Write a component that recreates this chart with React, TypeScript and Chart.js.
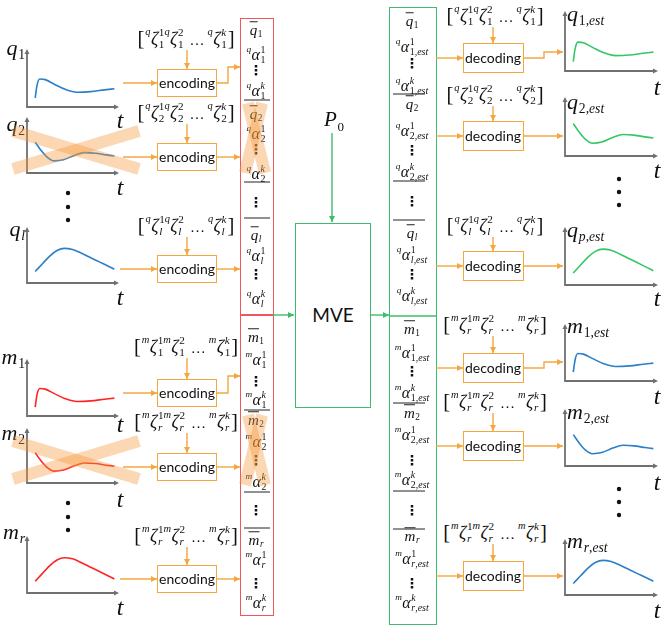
import React, { useEffect, useRef } from 'react';
import { Chart, registerables } from 'chart.js';

Chart.register(...registerables);

// curve shapes, x and y as a fraction of each axis box
const riseX = [0.09, 0.11, 0.14, 0.2, 0.3, 0.42, 0.55, 0.7, 0.85, 0.96];
const riseY = [0.16, 0.38, 0.49, 0.48, 0.4, 0.31, 0.26, 0.27, 0.3, 0.32];
const dipX = [0.09, 0.15, 0.22, 0.3, 0.4, 0.52, 0.63, 0.75, 0.87, 0.96];
const dipY = [0.56, 0.42, 0.29, 0.22, 0.24, 0.32, 0.37, 0.36, 0.33, 0.31];
const humpX = [0.09, 0.17, 0.25, 0.33, 0.41, 0.5, 0.6, 0.7, 0.8, 0.9, 0.96];
const humpY = [0.21, 0.35, 0.49, 0.59, 0.63, 0.61, 0.54, 0.46, 0.38, 0.3, 0.25];

// names shown in the figure
const inVars = [['q', '1'], ['q', '2'], ['q', 'l'], ['m', '1'], ['m', '2'], ['m', 'r']];
const outVars = [['q', '1,est'], ['q', '2,est'], ['q', 'p,est'], ['m', '1,est'], ['m', '2,est'], ['m', 'r,est']];
const rowShape = ['rise', 'dip', 'hump', 'rise', 'dip', 'hump'];
const encZetaIdx = ['1', '2', 'l', '1', 'r', 'r'];
const decZetaIdx = ['1', '2', 'l', 'r', 'r', 'r'];
const blockIdx = { q: ['1', '2', 'l'], m: ['1', '2', 'r'] };

const shapes: Record<string, number[][]> = { rise: [riseX, riseY], dip: [dipX, dipY], hump: [humpX, humpY] };

// layout (page pixels)
const inTop = [50, 118, 228, 360, 429, 537];
const inBottom = [107, 173, 283, 416, 483, 593];
const inLabelY = [48, 124, 229, 357, 433, 532];
const inTY = [120, 187, 297, 424, 499, 607];
const outTop = [12, 98, 228, 325, 410, 540];
const outBottom = [71, 156, 285, 381, 466, 595];
const outLabelY = [14, 102, 230, 326, 412, 541];
const outTY = [87, 170, 298, 396, 482, 610];
const encY = [83, 157, 269, 393, 467, 579];
const encZetaY = [39, 113, 226, 347, 422, 536];
const decY = [58, 136, 266, 368, 446, 576];
const decZetaY = [16, 95, 226, 325, 402, 533];
const redRows = [[30, 52, 70, 88], [114, 131, 149, 171], [235, 253, 274, 296], [337, 357, 381, 397], [420, 439, 460, 479], [540, 557, 583, 600]];
const greenRows = [[21, 44, 63, 83], [104, 128, 150, 169], [233, 252, 274, 293], [329, 350, 371, 390], [413, 432, 460, 477], [536, 556, 583, 600]];
const redGapDots = [202, 510];
const greenGapDots = [201, 510];
const redSeps = [100, 182, 218, 410, 492, 528];
const greenSeps = [94, 181, 220, 403, 491, 529];
const leftDots = [193, 207, 220, 503, 517, 530];
const rightDots = [179, 192, 205, 489, 502, 515];

const ORANGE = '#f4a640';
const RED_BOX = '#f0555a';
const GREEN_BOX = '#3dbd6c';
const AXIS = '#707070';
const BLUE = '#2a7fc9';
const RED = '#ff2424';
const GREEN = '#34c766';
const MATH = '"Liberation Serif", "DejaVu Serif", serif';
const SANS = 'Lato, "Open Sans", sans-serif';
const PAD = 6;

const axisArrows = {
  id: 'axisArrows',
  beforeDatasetsDraw(chart: any) {
    const { ctx, chartArea } = chart;
    const { left, top, right, bottom } = chartArea;
    ctx.save();
    ctx.strokeStyle = AXIS;
    ctx.fillStyle = AXIS;
    ctx.lineWidth = 1.8;
    ctx.beginPath();
    ctx.moveTo(left, top + 3);
    ctx.lineTo(left, bottom);
    ctx.lineTo(right - 3, bottom);
    ctx.stroke();
    ctx.beginPath();
    ctx.moveTo(left, top - 1);
    ctx.lineTo(left - 2.5, top + 4);
    ctx.lineTo(left + 2.5, top + 4);
    ctx.closePath();
    ctx.fill();
    ctx.beginPath();
    ctx.moveTo(right + 1, bottom);
    ctx.lineTo(right - 4, bottom - 2.5);
    ctx.lineTo(right - 4, bottom + 2.5);
    ctx.closePath();
    ctx.fill();
    ctx.restore();
  },
};

function MiniPlot({ left, top, width, height, shape, color }: any) {
  const ref = useRef<HTMLCanvasElement | null>(null);
  useEffect(() => {
    if (!ref.current) return;
    const [xs, ys] = shapes[shape];
    const chart = new Chart(ref.current, {
      type: 'line',
      data: {
        datasets: [
          {
            data: xs.map((x, i) => ({ x, y: ys[i] })),
            borderColor: color,
            borderWidth: 1.6,
            pointRadius: 0,
            tension: 0.4,
            cubicInterpolationMode: 'monotone',
            fill: false,
          },
        ],
      },
      options: {
        animation: false,
        responsive: false,
        events: [],
        layout: { padding: PAD },
        scales: {
          x: { type: 'linear', min: 0, max: 1, display: false },
          y: { min: 0, max: 1, display: false },
        },
        plugins: { legend: { display: false }, tooltip: { enabled: false } },
      },
      plugins: [axisArrows],
    } as any);
    return () => chart.destroy();
  }, [shape, color, width, height]);
  return (
    <canvas
      ref={ref}
      width={width + 2 * PAD}
      height={height + 2 * PAD}
      style={{ position: 'absolute', left: left - PAD, top: top - PAD }}
    />
  );
}

function Mix({ s }: { s: string }) {
  return (
    <>
      {s.split('').map((c, k) => (
        <span key={k} style={{ fontStyle: /[a-zα-ω]/i.test(c) ? 'italic' : 'normal' }}>{c}</span>
      ))}
    </>
  );
}

function Sym({ pre, base, sup, sub, bar, size }: any) {
  return (
    <span style={{ display: 'inline-flex', alignItems: 'center', fontSize: size, lineHeight: 1, fontFamily: MATH }}>
      {pre ? (
        <span style={{ fontSize: '0.58em', alignSelf: 'flex-start', fontStyle: 'italic', marginRight: '0.04em' }}>{pre}</span>
      ) : null}
      <span style={{ fontStyle: 'italic', borderTop: bar ? '1px solid #222' : 'none', paddingTop: bar ? 1 : 0 }}>{base}</span>
      {sup || sub ? (
        <span style={{ display: 'inline-flex', flexDirection: 'column', fontSize: '0.62em', lineHeight: 1.05, marginLeft: '0.06em' }}>
          <span>{sup ? <Mix s={sup} /> : '\u00a0'}</span>
          <span>{sub ? <Mix s={sub} /> : '\u00a0'}</span>
        </span>
      ) : null}
    </span>
  );
}

function At({ x, y, align = 'center', children }: any) {
  const tx = align === 'center' ? '-50%' : align === 'right' ? '-100%' : '0';
  return (
    <div style={{ position: 'absolute', left: x, top: y, transform: `translate(${tx}, -50%)`, whiteSpace: 'nowrap', lineHeight: 1 }}>
      {children}
    </div>
  );
}

function Zeta({ v, i }: any) {
  return (
    <span style={{ display: 'inline-flex', alignItems: 'center', fontSize: 18, fontFamily: MATH }}>
      <span style={{ fontSize: '1.15em', marginRight: 1 }}>[</span>
      <Sym pre={v} base="ζ" sup="1" sub={i} />
      <Sym pre={v} base="ζ" sup="2" sub={i} />
      <span style={{ margin: '0 3px 0 6px', alignSelf: 'flex-end', fontSize: 15, marginBottom: 2 }}>…</span>
      <Sym pre={v} base="ζ" sup="k" sub={i} />
      <span style={{ fontSize: '1.15em', marginLeft: 1 }}>]</span>
    </span>
  );
}

function VDots() {
  return <span style={{ fontFamily: '"DejaVu Sans", sans-serif', fontSize: 14, fontWeight: 'bold' }}>⋮</span>;
}

function Box({ left, top, width, height, color }: any) {
  return (
    <div
      style={{ position: 'absolute', left, top, width, height, boxSizing: 'border-box', border: `1.5px solid ${color}`, background: 'transparent' }}
    />
  );
}

function ColumnEntries({ x, rows, gapDots, est }: any) {
  const out: any[] = [];
  rows.forEach((ys: number[], r: number) => {
    const v = r < 3 ? 'q' : 'm';
    const idx = (blockIdx as any)[v][r % 3];
    const sub = est ? `${idx},est` : idx;
    out.push(<At key={`b${r}`} x={x} y={ys[0]}><Sym base={v} sub={idx} bar size={15} /></At>);
    out.push(<At key={`a${r}`} x={x} y={ys[1]}><Sym pre={v} base="α" sup="1" sub={sub} size={16} /></At>);
    out.push(<At key={`d${r}`} x={x} y={ys[2]}><VDots /></At>);
    out.push(<At key={`k${r}`} x={x} y={ys[3]}><Sym pre={v} base="α" sup="k" sub={sub} size={16} /></At>);
  });
  gapDots.forEach((y: number, k: number) => out.push(<At key={`g${k}`} x={x} y={y}><VDots /></At>));
  return <>{out}</>;
}

function Arrow({ pts, color, marker }: any) {
  return (
    <polyline
      points={pts.map((p: number[]) => p.join(',')).join(' ')}
      fill="none"
      stroke={color}
      strokeWidth={1.4}
      markerEnd={`url(#${marker})`}
    />
  );
}

export default function App() {
  const orangeArrows: number[][][] = [];
  encY.forEach((y, i) => {
    orangeArrows.push([[i % 3 === 2 ? 120 : 123, y], [157, y]]);
    orangeArrows.push([[187, encZetaY[i] + 11], [187, y - 14]]);
    if (i === 0 || i === 3) {
      const ey = i === 0 ? 67 : 376;
      orangeArrows.push([[217, y], [228, y], [228, ey], [240, ey]]);
    } else orangeArrows.push([[217, y], [240, y]]);
  });
  decY.forEach((y, i) => {
    orangeArrows.push([[436, y], [463, y]]);
    orangeArrows.push([[493, decZetaY[i] + 11], [493, y - 15]]);
    if (i === 0 || i === 3) {
      const ey = i === 0 ? 52 : 362;
      orangeArrows.push([[524, y], [544, y], [544, ey], [563, ey]]);
    } else orangeArrows.push([[524, y], [563, y]]);
  });
  const greenArrows = [
    [[332, 133], [332, 222]],
    [[273, 315], [294, 315]],
    [[370, 315], [389, 315]],
  ];
  const crosses = [
    [[13, 131], [139, 169]], [[13, 169], [139, 131]],
    [[13, 441], [139, 479]], [[13, 479], [139, 441]],
    [[248, 103], [265, 173]], [[262, 103], [245, 173]],
    [[248, 415], [265, 485]], [[262, 415], [245, 485]],
  ];

  return (
    <div style={{ position: 'absolute', left: 0, top: 0, width: 661, height: 629, background: '#fff', overflow: 'hidden', color: '#111' }}>
      {inVars.map((vv, i) => (
        <React.Fragment key={`in${i}`}>
          <MiniPlot left={27} top={inTop[i]} width={91} height={inBottom[i] - inTop[i]} shape={rowShape[i]} color={i < 3 ? BLUE : RED} />
          <At x={25} y={inLabelY[i]} align="right"><Sym base={vv[0]} sub={vv[1]} size={22} /></At>
          <At x={120} y={inTY[i]}><span style={{ fontFamily: MATH, fontStyle: 'italic', fontSize: 24 }}>t</span></At>
          <At x={186} y={encZetaY[i]}><Zeta v={vv[0]} i={encZetaIdx[i]} /></At>
          <Box left={157} top={encY[i] - 14} width={60} height={28} color={ORANGE} />
          <At x={187} y={encY[i]}><span style={{ fontFamily: SANS, fontSize: 14 }}>encoding</span></At>
        </React.Fragment>
      ))}
      {outVars.map((vv, i) => (
        <React.Fragment key={`out${i}`}>
          <MiniPlot left={565} top={outTop[i]} width={92} height={outBottom[i] - outTop[i]} shape={rowShape[i]} color={i < 3 ? GREEN : BLUE} />
          <At x={567} y={outLabelY[i]} align="left"><Sym base={vv[0]} sub={vv[1]} size={22} /></At>
          <At x={657} y={outTY[i]}><span style={{ fontFamily: MATH, fontStyle: 'italic', fontSize: 24 }}>t</span></At>
          <At x={495} y={decZetaY[i]}><Zeta v={vv[0]} i={decZetaIdx[i]} /></At>
          <Box left={463} top={decY[i] - 15} width={61} height={30} color={ORANGE} />
          <At x={493} y={decY[i]}><span style={{ fontFamily: SANS, fontSize: 14 }}>decoding</span></At>
        </React.Fragment>
      ))}

      <Box left={240} top={18} width={34} height={298} color={RED_BOX} />
      <Box left={240} top={314} width={34} height={302} color={RED_BOX} />
      <ColumnEntries x={256} rows={redRows} gapDots={redGapDots} est={false} />
      <Box left={389} top={7} width={48} height={618} color={GREEN_BOX} />
      <ColumnEntries x={412} rows={greenRows} gapDots={greenGapDots} est />
      <Box left={295} top={223} width={76} height={185} color={GREEN_BOX} />
      <At x={333} y={315}><span style={{ fontFamily: SANS, fontSize: 19 }}>MVE</span></At>
      <At x={334} y={120}><Sym base="P" sub="0" size={21} /></At>

      <svg width={661} height={629} style={{ position: 'absolute', left: 0, top: 0, pointerEvents: 'none' }}>
        <defs>
          <marker id="ao" markerUnits="userSpaceOnUse" markerWidth={6} markerHeight={6} refX={6} refY={3} orient="auto">
            <path d="M0,0 L6,3 L0,6 z" fill={ORANGE} />
          </marker>
          <marker id="ag" markerUnits="userSpaceOnUse" markerWidth={6} markerHeight={6} refX={6} refY={3} orient="auto">
            <path d="M0,0 L6,3 L0,6 z" fill={GREEN_BOX} />
          </marker>
        </defs>
        {redSeps.map((y, k) => <line key={`rs${k}`} x1={244} x2={270} y1={y} y2={y} stroke="#222" strokeWidth={1} />)}
        {greenSeps.map((y, k) => <line key={`gs${k}`} x1={393} x2={425} y1={y} y2={y} stroke="#222" strokeWidth={1} />)}
        <line x1={389} x2={436} y1={316} y2={316} stroke={GREEN_BOX} strokeWidth={1.5} />
        {leftDots.map((y, k) => <circle key={`ld${k}`} cx={68} cy={y} r={2.2} fill="#111" />)}
        {rightDots.map((y, k) => <circle key={`rd${k}`} cx={619} cy={y} r={2.2} fill="#111" />)}
        {orangeArrows.map((pts, k) => <Arrow key={`oa${k}`} pts={pts} color={ORANGE} marker="ao" />)}
        {greenArrows.map((pts, k) => <Arrow key={`ga${k}`} pts={pts} color={GREEN_BOX} marker="ag" />)}
        {crosses.map((c, k) => (
          <line key={`x${k}`} x1={c[0][0]} y1={c[0][1]} x2={c[1][0]} y2={c[1][1]} stroke="rgba(245,150,55,0.38)" strokeWidth={12} />
        ))}
      </svg>
    </div>
  );
}
